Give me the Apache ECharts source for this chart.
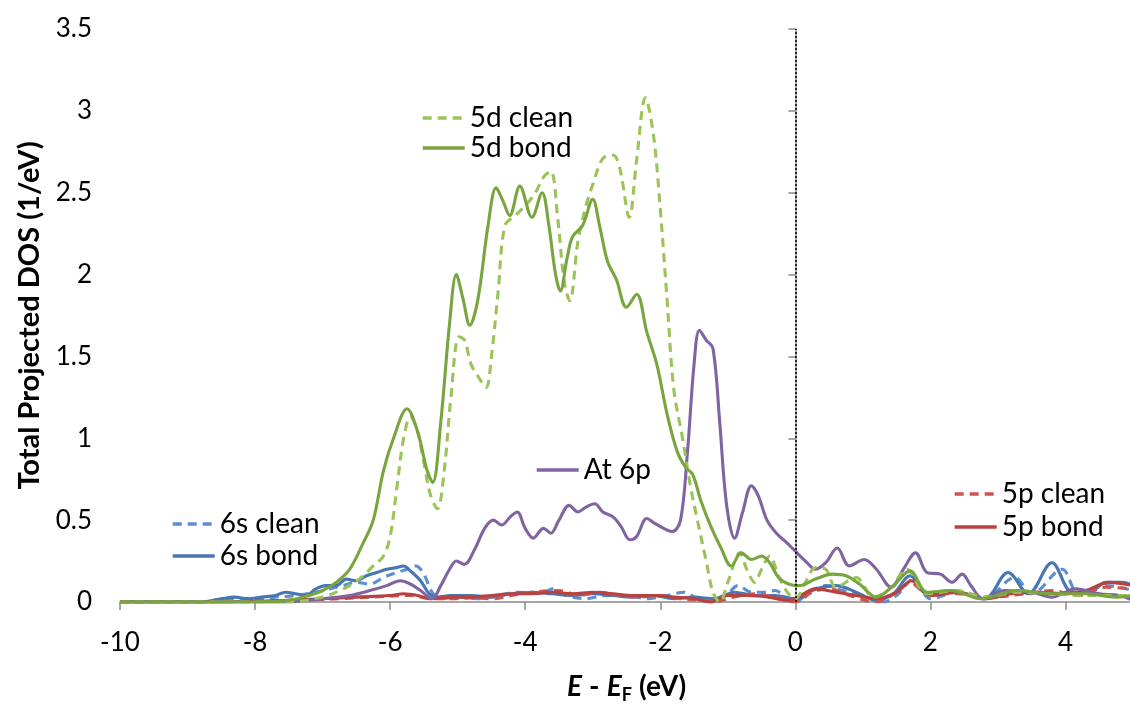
<!DOCTYPE html>
<html>
<head>
<meta charset="utf-8">
<script src="https://cdn.jsdelivr.net/npm/echarts@6/dist/echarts.min.js"></script>
<style>html,body{margin:0;padding:0;background:#fff}#c{width:1130px;height:704px}</style>
</head>
<body>
<div id="c"></div>
<script>
// Energy (eV) and DOS values per series
const e5dClean = [-10,-7.5,-7.0,-6.8,-6.6,-6.4,-6.25,-6.1,-6.0,-5.9,-5.8,-5.7,-5.6,-5.5,-5.4,-5.3,-5.2,-5.1,-4.98,-4.9,-4.8,-4.7,-4.58,-4.5,-4.4,-4.3,-4.15,-4.0,-3.85,-3.72,-3.62,-3.52,-3.42,-3.34,-3.22,-3.1,-3.0,-2.85,-2.7,-2.6,-2.46,-2.35,-2.22,-2.1,-2.0,-1.9,-1.8,-1.67,-1.55,-1.45,-1.32,-1.22,-1.12,-1.0,-0.82,-0.72,-0.6,-0.5,-0.38,-0.25,-0.12,0.0,0.15,0.3,0.45,0.6,0.9,1.15,1.4,1.65,1.95,2.4,2.8,3.3,3.8,4.3,5];
const v5dClean = [0,0,0.03,0.06,0.1,0.16,0.22,0.28,0.4,0.7,1.0,1.13,1.05,0.85,0.65,0.57,0.8,1.25,1.62,1.6,1.45,1.38,1.31,1.5,1.9,2.3,2.36,2.42,2.5,2.6,2.63,2.35,1.95,1.84,2.2,2.42,2.55,2.71,2.73,2.65,2.35,2.7,3.08,2.85,2.4,1.85,1.3,1.0,0.7,0.5,0.25,0.06,0.0,0.12,0.3,0.2,0.12,0.2,0.28,0.16,0.06,0.02,0.12,0.21,0.2,0.09,0.15,0.03,0.08,0.2,0.05,0.07,0.03,0.06,0.05,0.04,0.04];

const e5dBond = [-10,-8,-7.5,-7.2,-7.0,-6.8,-6.6,-6.4,-6.25,-6.1,-5.95,-5.75,-5.6,-5.45,-5.37,-5.25,-5.12,-5.02,-4.92,-4.82,-4.7,-4.55,-4.43,-4.33,-4.23,-4.08,-3.9,-3.75,-3.65,-3.55,-3.48,-3.38,-3.3,-3.15,-3.0,-2.9,-2.78,-2.65,-2.5,-2.35,-2.2,-2.05,-1.9,-1.75,-1.62,-1.52,-1.4,-1.25,-1.1,-0.95,-0.8,-0.65,-0.5,-0.38,-0.25,-0.1,0.05,0.3,0.55,0.75,0.95,1.2,1.45,1.7,1.95,2.3,2.75,3.3,3.8,4.3,4.75,5];
const v5dBond = [0,0,0.01,0.04,0.07,0.12,0.2,0.36,0.5,0.8,1.0,1.18,1.05,0.8,0.73,1.1,1.7,2.0,1.85,1.69,1.85,2.3,2.53,2.45,2.36,2.54,2.35,2.5,2.3,2.0,1.9,2.1,2.23,2.3,2.46,2.3,2.08,1.97,1.8,1.88,1.65,1.45,1.15,0.92,0.82,0.78,0.62,0.46,0.33,0.22,0.3,0.26,0.28,0.24,0.15,0.11,0.1,0.14,0.17,0.16,0.11,0.03,0.1,0.19,0.06,0.07,0.02,0.07,0.05,0.05,0.03,0.04];

const eAt6p = [-10,-7.6,-7.0,-6.6,-6.3,-6.05,-5.85,-5.7,-5.55,-5.38,-5.25,-5.12,-5.02,-4.9,-4.75,-4.6,-4.47,-4.35,-4.22,-4.12,-4.0,-3.88,-3.73,-3.62,-3.5,-3.35,-3.22,-3.1,-2.97,-2.85,-2.7,-2.58,-2.45,-2.35,-2.2,-2.08,-1.95,-1.82,-1.7,-1.6,-1.5,-1.42,-1.32,-1.22,-1.12,-1.02,-0.9,-0.78,-0.65,-0.55,-0.42,-0.28,-0.12,0.0,0.15,0.3,0.45,0.62,0.8,1.02,1.2,1.42,1.6,1.78,1.95,2.15,2.32,2.47,2.6,2.78,3.1,3.5,3.8,4.15,4.5,4.8,5];
const vAt6p = [0,0,0.02,0.04,0.07,0.1,0.13,0.11,0.07,0.02,0.1,0.2,0.25,0.23,0.32,0.45,0.5,0.47,0.52,0.55,0.45,0.39,0.45,0.42,0.5,0.59,0.55,0.58,0.6,0.55,0.52,0.46,0.38,0.4,0.51,0.48,0.45,0.43,0.5,0.9,1.45,1.66,1.6,1.55,1.1,0.6,0.39,0.55,0.71,0.65,0.5,0.42,0.36,0.31,0.25,0.2,0.24,0.33,0.22,0.26,0.2,0.09,0.2,0.3,0.18,0.17,0.12,0.17,0.1,0.02,0.07,0.06,0.03,0.08,0.05,0.04,0.01];

const e6sClean = [-10,-8.8,-8.4,-8.0,-7.7,-7.4,-7.1,-6.9,-6.7,-6.5,-6.3,-6.1,-5.9,-5.75,-5.62,-5.5,-5.38,-5.25,-5.0,-4.7,-4.4,-4.1,-3.75,-3.6,-3.4,-3.1,-2.8,-2.5,-2.2,-1.9,-1.65,-1.45,-1.2,-1.0,-0.85,-0.65,-0.45,-0.3,-0.1,0.0,0.2,0.45,0.7,1.0,1.3,1.5,1.75,2.0,2.4,2.8,3.25,3.5,3.95,4.2,4.6,5];
const v6sClean = [0,0,0.02,0.02,0.03,0.04,0.06,0.08,0.1,0.12,0.11,0.15,0.18,0.2,0.22,0.17,0.06,0.02,0.03,0.02,0.04,0.06,0.05,0.08,0.04,0.02,0.04,0.04,0.02,0.04,0.06,0.02,0.0,0.05,0.1,0.06,0.06,0.07,0.01,0.0,0.06,0.1,0.07,0.04,0.0,0.04,0.14,0.02,0.06,0.02,0.15,0.05,0.2,0.05,0.1,0.07];

const e6sBond = [-10,-8.8,-8.5,-8.3,-8.1,-7.9,-7.7,-7.55,-7.4,-7.25,-7.1,-6.95,-6.8,-6.65,-6.5,-6.35,-6.2,-6.05,-5.9,-5.8,-5.7,-5.55,-5.42,-5.3,-5.1,-4.8,-4.5,-4.2,-3.9,-3.6,-3.3,-3.0,-2.7,-2.4,-2.1,-1.8,-1.5,-1.2,-0.9,-0.6,-0.3,0.0,0.3,0.6,0.9,1.2,1.45,1.7,1.95,2.3,2.8,3.15,3.45,3.8,4.1,4.35,4.6,4.85,5];
const v6sBond = [0,0,0.02,0.03,0.02,0.03,0.04,0.06,0.05,0.04,0.08,0.1,0.1,0.14,0.13,0.16,0.18,0.2,0.21,0.22,0.19,0.13,0.05,0.03,0.04,0.04,0.03,0.05,0.06,0.05,0.04,0.05,0.04,0.03,0.04,0.02,0.03,0.02,0.06,0.04,0.04,0.02,0.08,0.1,0.06,0.01,0.05,0.16,0.05,0.07,0.02,0.18,0.05,0.24,0.06,0.06,0.12,0.12,0.1];

const e5pClean = [-10,-8.5,-7.5,-7.0,-6.5,-6.0,-5.7,-5.4,-5.1,-4.8,-4.5,-4.2,-3.9,-3.5,-3.2,-2.9,-2.6,-2.3,-2.0,-1.7,-1.4,-1.2,-0.9,-0.6,-0.3,0.0,0.25,0.5,0.8,1.2,1.5,1.7,1.95,2.4,2.9,3.4,3.8,4.2,4.6,5];
const v5pClean = [0,0,0.01,0.015,0.025,0.035,0.04,0.02,0.02,0.025,0.02,0.04,0.06,0.07,0.04,0.06,0.04,0.03,0.04,0.02,0.01,0.0,0.03,0.05,0.03,0.0,0.06,0.08,0.04,0.0,0.06,0.12,0.05,0.05,0.03,0.05,0.07,0.04,0.09,0.08];

const e5pBond = [-10,-8.5,-8.0,-7.5,-7.0,-6.5,-6.0,-5.8,-5.6,-5.4,-5.1,-4.8,-4.5,-4.2,-3.9,-3.6,-3.3,-3.0,-2.7,-2.4,-2.1,-1.8,-1.5,-1.25,-1.0,-0.7,-0.4,-0.1,0.0,0.3,0.6,0.9,1.2,1.5,1.72,2.0,2.4,2.8,3.2,3.6,4.0,4.3,4.65,5];
const v5pBond = [0,0,0.005,0.01,0.02,0.03,0.04,0.05,0.04,0.02,0.03,0.03,0.04,0.05,0.05,0.06,0.05,0.06,0.05,0.04,0.04,0.03,0.02,0.0,0.04,0.04,0.03,0.01,0.02,0.08,0.06,0.04,0.02,0.06,0.13,0.04,0.06,0.02,0.05,0.06,0.05,0.07,0.12,0.1];

const xTicks = {min: -10, max: 5, step: 2};
const yTicks = {min: 0, max: 3.5, step: 0.5};

function pairs(xs, ys) { return xs.map((x, i) => [x, ys[i]]); }

const FONT = 'Lato, "Open Sans", sans-serif';
const W = 3.1;
const DASH = [9, 6];

function mk(name, xs, ys, color, dashed) {
  return {
    name: name, type: 'line', data: pairs(xs, ys), smooth: 0.35,
    symbol: 'none', showSymbol: false, clip: true,
    lineStyle: { color: color, width: W, type: dashed ? DASH : 'solid' },
    itemStyle: { color: color },
    emphasis: { disabled: true }, z: 3
  };
}

const series = [
  mk('6s clean', e6sClean, v6sClean, '#5B8FCF', true),
  mk('6s bond', e6sBond, v6sBond, '#4676B4', false),
  mk('5p clean', e5pClean, v5pClean, '#CC5552', true),
  mk('5p bond', e5pBond, v5pBond, '#B9413E', false),
  mk('At 6p', eAt6p, vAt6p, '#8064A2', false),
  mk('5d clean', e5dClean, v5dClean, '#9CC35A', true),
  mk('5d bond', e5dBond, v5dBond, '#78A53E', false)
];
series[0].markLine = {
  silent: true, symbol: 'none', label: { show: false },
  lineStyle: { color: '#000', type: [2, 2], width: 1.5 },
  data: [{ xAxis: 0 }]
};

function leg(names, left, top, gap) {
  return {
    data: names, left: left, top: top, orient: 'vertical', padding: 0,
    itemWidth: 42, itemHeight: 3, itemGap: gap, selectedMode: false,
    itemStyle: { opacity: 0 },
    lineStyle: { width: 3.4 },
    textStyle: { fontFamily: FONT, fontSize: 28, color: '#000', lineHeight: 30 },
    inactiveColor: '#000'
  };
}

const chart = echarts.init(document.getElementById('c'), null, { renderer: 'canvas' });
chart.setOption({
  animation: false,
  backgroundColor: '#fff',
  grid: { left: 120, right: -3, top: 29, bottom: 102, containLabel: false, outerBoundsMode: 'none' },
  legend: [
    leg(['5d clean', '5d bond'], 421, 103, 0),
    leg(['At 6p'], 535, 455, 0),
    leg(['6s clean', '6s bond'], 171, 509, 2),
    leg(['5p clean', '5p bond'], 953, 479, 3)
  ],
  xAxis: {
    type: 'value', min: xTicks.min, max: xTicks.max, interval: xTicks.step,
    name: '{e|E} {m|-} {e|E}{s|F} {m|(eV)}', nameLocation: 'middle', nameGap: 68,
    nameTextStyle: {
      fontFamily: FONT, fontSize: 28, color: '#000',
      rich: {
        e: { fontFamily: FONT, fontSize: 28, fontWeight: 'bold', fontStyle: 'italic', color: '#000' },
        m: { fontFamily: FONT, fontSize: 28, fontWeight: 'bold', color: '#000' },
        s: { fontFamily: FONT, fontSize: 18, fontWeight: 'bold', color: '#000', verticalAlign: 'bottom', padding: [16, 0, 0, 0] }
      }
    },
    axisLine: { onZero: false, lineStyle: { color: '#8a8a8a', width: 1.5 } },
    axisTick: { show: true, inside: false, length: 8, lineStyle: { color: '#8a8a8a', width: 1.5 } },
    axisLabel: { fontFamily: FONT, fontSize: 26, color: '#000', margin: 28, showMaxLabel: false },
    splitLine: { show: false }
  },
  yAxis: {
    type: 'value', min: yTicks.min, max: yTicks.max, interval: yTicks.step,
    name: 'Total Projected DOS (1/eV)', nameLocation: 'middle', nameGap: 76, nameRotate: 90,
    nameTextStyle: { fontFamily: FONT, fontSize: 29, fontWeight: 'bold', color: '#000' },
    axisLine: { show: true, lineStyle: { color: '#8a8a8a', width: 1.5 } },
    axisTick: { show: true, inside: false, length: 7, lineStyle: { color: '#8a8a8a', width: 1.5 } },
    axisLabel: { fontFamily: FONT, fontSize: 26, color: '#000', margin: 28 },
    splitLine: { show: false }
  },
  series: series
});
</script>
</body>
</html>
